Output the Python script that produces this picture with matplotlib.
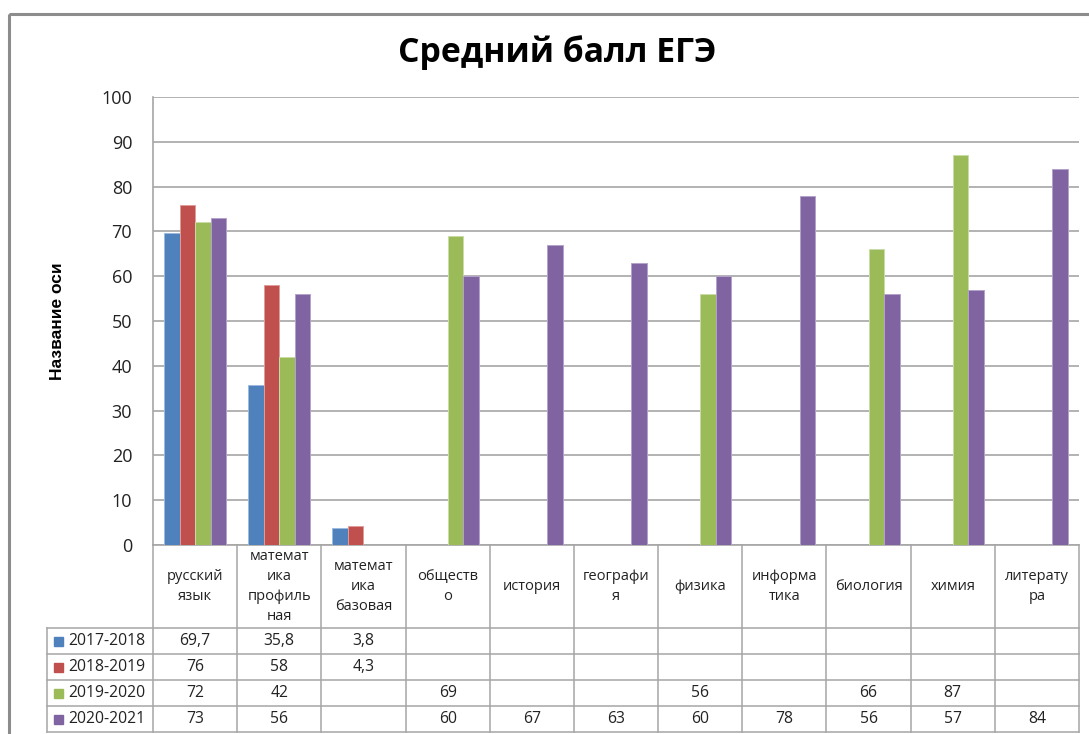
import matplotlib
matplotlib.use("Agg")
import matplotlib.pyplot as plt
import matplotlib.patches as mp
import numpy as np

plt.rcParams["font.family"] = ["Open Sans", "DejaVu Sans"]

nan = np.nan
categories = ["русский\nязык", "математ\nика\nпрофиль\nная", "математ\nика\nбазовая",
              "обществ\nо", "история", "географи\nя", "физика", "информа\nтика",
              "биология", "химия", "литерату\nра"]
years = ["2017-2018", "2018-2019", "2019-2020", "2020-2021"]
y2017 = [69.7, 35.8, 3.8, nan, nan, nan, nan, nan, nan, nan, nan]
y2018 = [76, 58, 4.3, nan, nan, nan, nan, nan, nan, nan, nan]
y2019 = [72, 42, nan, 69, nan, nan, 56, nan, 66, 87, nan]
y2020 = [73, 56, nan, 60, 67, 63, 60, 78, 56, 57, 84]
series = [y2017, y2018, y2019, y2020]
colors = ["#4F81BD", "#C0504D", "#9BBB59", "#8064A2"]
edges = ["#9DB9DE", "#E09C9A", "#C9DCA8", "#B4A2CB"]

W, H = 1089, 734
GRID = "#A6A6A6"
fig = plt.figure(figsize=(W / 100, H / 100), dpi=100)

# plot area in pixels
L, R, T, B = 153, 1079, 97, 545
ax = fig.add_axes([L / W, (H - B) / H, (R - L) / W, (B - T) / H])
n = len(categories)
x = np.arange(n)
bw = 0.184
for j, (vals, c, e) in enumerate(zip(series, colors, edges)):
    ax.bar(x + (j - 1.5) * bw, vals, width=bw, color=c, edgecolor=e, linewidth=0.7, zorder=3)
ax.set_xlim(-0.5, n - 0.5)
ax.set_ylim(0, 100)
ax.set_yticks(np.arange(0, 101, 10))
ax.set_xticks([])
ax.tick_params(axis="y", length=0, pad=15, labelsize=13, labelcolor="#222222")
ax.yaxis.grid(True, color=GRID, lw=1.2, zorder=0)
for s in ["top", "right"]:
    ax.spines[s].set_visible(False)
for s in ["left", "bottom"]:
    ax.spines[s].set_color(GRID)
    ax.spines[s].set_linewidth(1.2)
ax.set_ylabel("Название оси", fontsize=12.5, fontweight="bold",
              family=["Liberation Sans", "DejaVu Sans"], labelpad=26)

# overlay axes in pixel coordinates for frame, title and data table
ov = fig.add_axes([0, 0, 1, 1], zorder=-1)
ov.set_xlim(0, W); ov.set_ylim(H, 0); ov.axis("off")
ov.add_patch(mp.Rectangle((9, 14), W + 20, H + 20, fill=False, edgecolor="#8C8C8C", lw=2.2))
fig.text(557 / W, 1 - 53 / H, "Средний балл ЕГЭ", ha="center", va="center",
         fontsize=24.3, fontweight="bold")

tab = fig.add_axes([0, 0, 1, 1], zorder=2)
tab.set_xlim(0, W); tab.set_ylim(H, 0); tab.axis("off")
colw = (R - L) / n
row_y = [628, 654, 680, 706, 732]
LEG = 47
kw = dict(color=GRID, lw=1.1)
for k in range(n + 1):
    xx = L + k * colw
    tab.plot([xx, xx], [B, row_y[-1]], **kw)
tab.plot([LEG, LEG], [row_y[0], row_y[-1]], **kw)
for yy in row_y:
    tab.plot([LEG, R], [yy, yy], **kw)
for k, cat in enumerate(categories):
    tab.text(L + (k + 0.5) * colw, (B + row_y[0]) / 2, cat, ha="center", va="center",
             fontsize=10.5, linespacing=1.45, color="#222222")
for r, (yr, vals, c) in enumerate(zip(years, series, colors)):
    yc = (row_y[r] + row_y[r + 1]) / 2
    tab.add_patch(mp.Rectangle((54, yc - 4.5), 9, 9, color=c))
    tab.text(68, yc, yr, ha="left", va="center", fontsize=11.3, color="#222222")
    for k, v in enumerate(vals):
        if np.isnan(v):
            continue
        s = f"{v:g}".replace(".", ",")
        tab.text(L + (k + 0.5) * colw, yc, s, ha="center", va="center", fontsize=11.3, color="#222222")

fig.savefig("out.png", dpi=100, facecolor="white")
